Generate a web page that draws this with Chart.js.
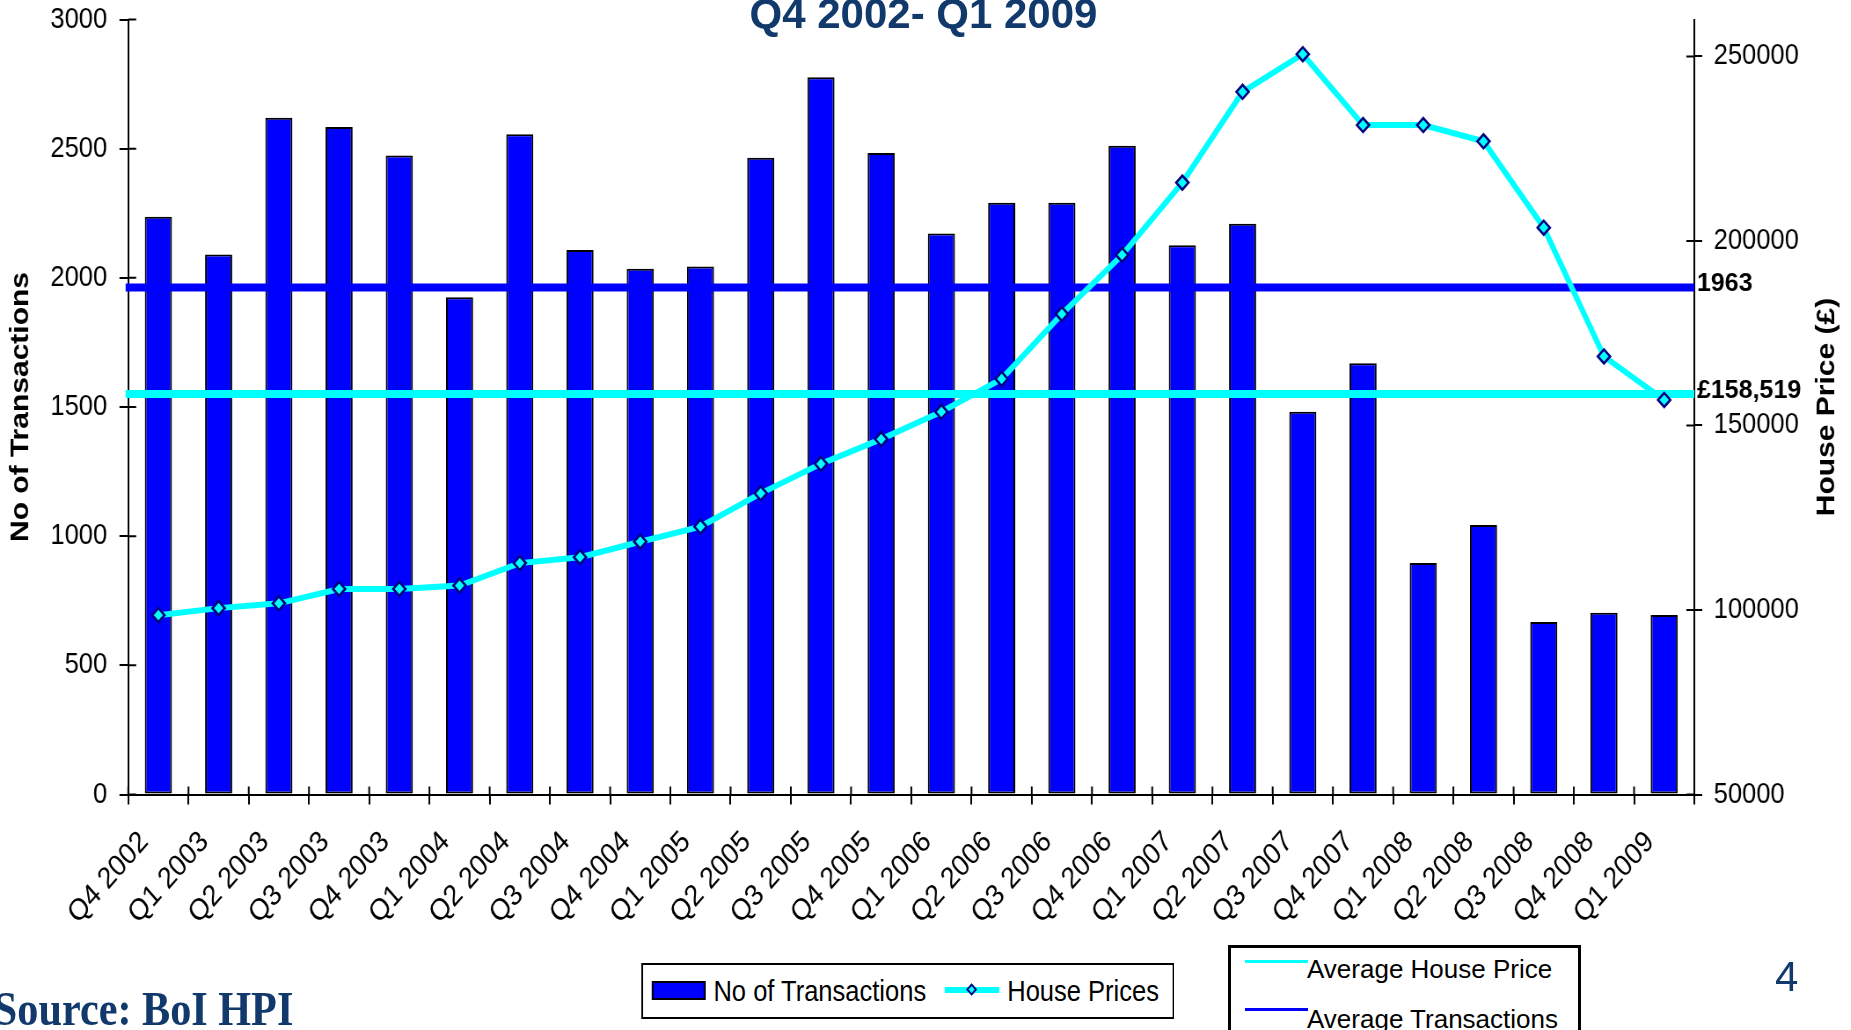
<!DOCTYPE html>
<html>
<head>
<meta charset="utf-8">
<script src="https://cdn.jsdelivr.net/npm/chart.js@4.4.1/dist/chart.umd.min.js"></script>
<style>
html,body{margin:0;padding:0;background:#fff;width:1851px;height:1030px;overflow:hidden;}
body{position:relative;font-family:"Liberation Sans",Arial,sans-serif;}
#wrap{position:absolute;left:0;top:0;width:2104px;height:1030px;transform:scaleX(0.8797);transform-origin:0 0;}
#c{position:absolute;left:0;top:0;width:2104px;height:1030px;}
.abs{position:absolute;white-space:nowrap;line-height:1;}
</style>
</head>
<body>
<div id="wrap">
  <canvas id="c" width="2104" height="1030"></canvas>
  <div class="abs" style="left:729px;top:963px;width:606px;height:56px;border:2px solid #000;box-sizing:border-box;background:#fff;"></div>
  <div class="abs" style="left:741px;top:981px;width:61px;height:19px;background:#0000ff;border:2px solid #000;box-sizing:border-box;"></div>
  <div class="abs" id="lg1" style="left:811px;top:977px;font-size:29px;color:#000;"></div>
  <div class="abs" style="left:1074px;top:987px;width:62px;height:6px;background:#00ffff;"></div>
  <div class="abs" style="left:1100px;top:985px;width:9px;height:9px;background:#00ffff;border:2px solid #000080;box-sizing:border-box;transform:rotate(45deg);"></div>
  <div class="abs" id="lg2" style="left:1145px;top:977px;font-size:29px;color:#000;"></div>
  <div class="abs" id="src" style="left:-7px;top:985px;font-family:'Liberation Serif','Times New Roman',serif;font-weight:bold;font-size:48px;color:#12396b;"></div>
</div>
<div class="abs" id="title" style="left:0;top:-7px;width:1847px;text-align:center;font-weight:bold;font-size:42px;color:#12396b;"></div>
<div class="abs" id="pg" style="left:1775px;top:956px;font-size:42px;color:#12396b;"></div>
<div class="abs" style="left:1228px;top:945px;width:353px;height:110px;border:3px solid #000;box-sizing:border-box;background:#fff;"></div>
<div class="abs" style="left:1245px;top:960px;width:63px;height:3px;background:#00ffff;"></div>
<div class="abs" style="left:1245px;top:1008px;width:63px;height:3px;background:#0000ff;"></div>
<div class="abs" id="lg3" style="left:1307px;top:956px;font-size:26px;color:#000;"></div>
<div class="abs" id="lg4" style="left:1307px;top:1006px;font-size:26px;color:#000;"></div>
<script>
// ---- data ----
const categories = ['Q4 2002','Q1 2003','Q2 2003','Q3 2003','Q4 2003','Q1 2004','Q2 2004','Q3 2004','Q4 2004',
  'Q1 2005','Q2 2005','Q3 2005','Q4 2005','Q1 2006','Q2 2006','Q3 2006','Q4 2006','Q1 2007','Q2 2007','Q3 2007',
  'Q4 2007','Q1 2008','Q2 2008','Q3 2008','Q4 2008','Q1 2009'];
const transactions = [2236,2090,2620,2584,2474,1925,2556,2108,2035,2044,2465,2776,2483,2172,2291,2291,2511,2126,
  2209,1482,1669,896,1043,668,704,695];
const housePrices = [98600,100500,101800,105700,105700,106600,112700,114300,118500,122600,131600,139600,146300,
  153700,162600,180200,196200,215800,240400,250600,231400,231400,227000,203600,168700,156900];
const avgTransactions = 1963;
const avgHousePrice = 158519;
const avgTransactionsLabel = '1963';
const avgHousePriceLabel = '£158,519';
const leftTicks = [0,500,1000,1500,2000,2500,3000];
const rightTicks = [50000,100000,150000,200000,250000];
const titleText = 'Q4 2002- Q1 2009';
const leftTitle = 'No of Transactions';
const rightTitle = 'House Price (£)';
const seriesNames = ['No of Transactions','House Prices'];
const avgNames = ['Average House Price','Average Transactions'];
const sourceText = 'Source: BoI HPI';
const pageNo = '4';

document.getElementById('title').textContent = titleText;
document.getElementById('lg1').textContent = seriesNames[0];
document.getElementById('lg2').textContent = seriesNames[1];
document.getElementById('lg3').textContent = avgNames[0];
document.getElementById('lg4').textContent = avgNames[1];
document.getElementById('src').textContent = sourceText;
document.getElementById('pg').textContent = pageNo;

const S = 0.8797; // horizontal compression of the chart canvas
const FONT = "'Liberation Sans', Arial, sans-serif";
const noPad = s => { s.paddingTop = 0; s.paddingBottom = 0; s.paddingLeft = 0; s.paddingRight = 0; };

const overlay = {
  id: 'overlay',
  afterDatasetDraw(chart, args) {
    if (args.index !== 0) return;
    const ctx = chart.ctx, a = chart.chartArea;
    const y = chart.scales.y, y1 = chart.scales.y1;
    ctx.save();
    ctx.lineWidth = 8;
    ctx.strokeStyle = '#00ffff';
    let py = y1.getPixelForValue(avgHousePrice);
    ctx.beginPath(); ctx.moveTo(a.left - 3, py); ctx.lineTo(a.right, py); ctx.stroke();
    ctx.strokeStyle = '#0000ff';
    py = y.getPixelForValue(avgTransactions);
    ctx.beginPath(); ctx.moveTo(a.left - 3, py); ctx.lineTo(a.right, py); ctx.stroke();
    ctx.restore();
  },
  afterDraw(chart) {
    const ctx = chart.ctx, a = chart.chartArea;
    const x = chart.scales.x, y = chart.scales.y, y1 = chart.scales.y1;
    ctx.save();
    ctx.strokeStyle = '#000';
    ctx.lineWidth = 2;
    // inner halves of tick marks (ticks cross the axes)
    ctx.beginPath();
    y.ticks.forEach(t => { const p = y.getPixelForValue(t.value); ctx.moveTo(a.left, p); ctx.lineTo(a.left + 9, p); });
    y1.ticks.forEach(t => { const p = y1.getPixelForValue(t.value); ctx.moveTo(a.right, p); ctx.lineTo(a.right - 9, p); });
    const half = (x.getPixelForTick(1) - x.getPixelForTick(0)) / 2;
    for (let i = 0; i <= categories.length; i++) {
      const p = i < categories.length ? x.getPixelForTick(i) - half : a.right;
      ctx.moveTo(p, a.bottom); ctx.lineTo(p, a.bottom - 8);
    }
    ctx.stroke();
    // labels of the average lines
    ctx.fillStyle = '#000';
    ctx.font = "bold 25px " + FONT;
    ctx.textBaseline = 'alphabetic';
    ctx.textAlign = 'left';
    [[avgTransactionsLabel, y.getPixelForValue(avgTransactions)], [avgHousePriceLabel, y1.getPixelForValue(avgHousePrice)]].forEach(([txt, p]) => {
      ctx.save();
      ctx.translate(a.right + 3, p + 4);
      ctx.scale(1 / S, 1);
      ctx.fillText(txt, 0, 0);
      ctx.restore();
    });
    // right axis title, reading upwards
    ctx.save();
    ctx.translate(2077, (a.top + a.bottom) / 2);
    ctx.rotate(-Math.PI / 2);
    ctx.font = "bold 30px " + FONT;
    ctx.textAlign = 'center';
    ctx.textBaseline = 'middle';
    ctx.fillText(rightTitle, 0, 0);
    ctx.restore();
    ctx.restore();
  }
};

new Chart(document.getElementById('c'), {
  data: {
    labels: categories,
    datasets: [
      { type: 'bar', label: seriesNames[0], data: transactions, yAxisID: 'y', order: 2,
        backgroundColor: '#0000ff', borderColor: '#000', borderWidth: 2, borderSkipped: false,
        barPercentage: 0.45, categoryPercentage: 1.0 },
      { type: 'line', label: seriesNames[1], data: housePrices, yAxisID: 'y1', order: 1,
        borderColor: '#00ffff', borderWidth: 6, tension: 0, fill: false,
        pointStyle: 'rectRot', pointRadius: 7, pointBackgroundColor: '#00ffff',
        pointBorderColor: '#000080', pointBorderWidth: 2.5 }
    ]
  },
  options: {
    responsive: false, animation: false, devicePixelRatio: 1,
    layout: { padding: { top: 19.5, left: 0, right: 0, bottom: 0 } },
    plugins: { legend: { display: false }, tooltip: { enabled: false }, title: { display: false } },
    scales: {
      x: {
        type: 'category', offset: true,
        grid: { display: true, offset: true, drawOnChartArea: false, drawTicks: true, tickLength: 10, color: '#000', lineWidth: 2 },
        border: { display: true, color: '#000', width: 2 },
        ticks: { color: '#000', font: { family: FONT, size: 30 }, minRotation: 45, maxRotation: 45, padding: 20, labelOffset: -16, autoSkip: false },
        afterFit: s => { s.height = 1030 - 794.5; noPad(s); }
      },
      y: {
        type: 'linear', position: 'left', min: 0, max: 3000,
        afterBuildTicks: s => { s.ticks = leftTicks.map(v => ({ value: v })); },
        grid: { display: true, drawOnChartArea: false, drawTicks: true, tickLength: 10, color: '#000', lineWidth: 2 },
        border: { display: true, color: '#000', width: 2 },
        ticks: { color: '#000', font: { family: FONT, size: 29 }, padding: 14, callback: v => String(v) },
        title: { display: true, text: leftTitle, color: '#000', font: { family: FONT, size: 30, weight: 'bold' }, padding: { top: 6, bottom: 0 } },
        afterFit: s => { s.width = 145.8; noPad(s); }
      },
      y1: {
        type: 'linear', position: 'right', min: 50000, max: 260000,
        afterBuildTicks: s => { s.ticks = rightTicks.map(v => ({ value: v })); },
        grid: { display: true, drawOnChartArea: false, drawTicks: true, tickLength: 9, color: '#000', lineWidth: 2 },
        border: { display: true, color: '#000', width: 2 },
        ticks: { color: '#000', font: { family: FONT, size: 29 }, padding: 13, callback: v => String(v) },
        afterFit: s => { s.width = 2104 - 1926; noPad(s); }
      }
    }
  },
  plugins: [overlay]
});
</script>
</body>
</html>
